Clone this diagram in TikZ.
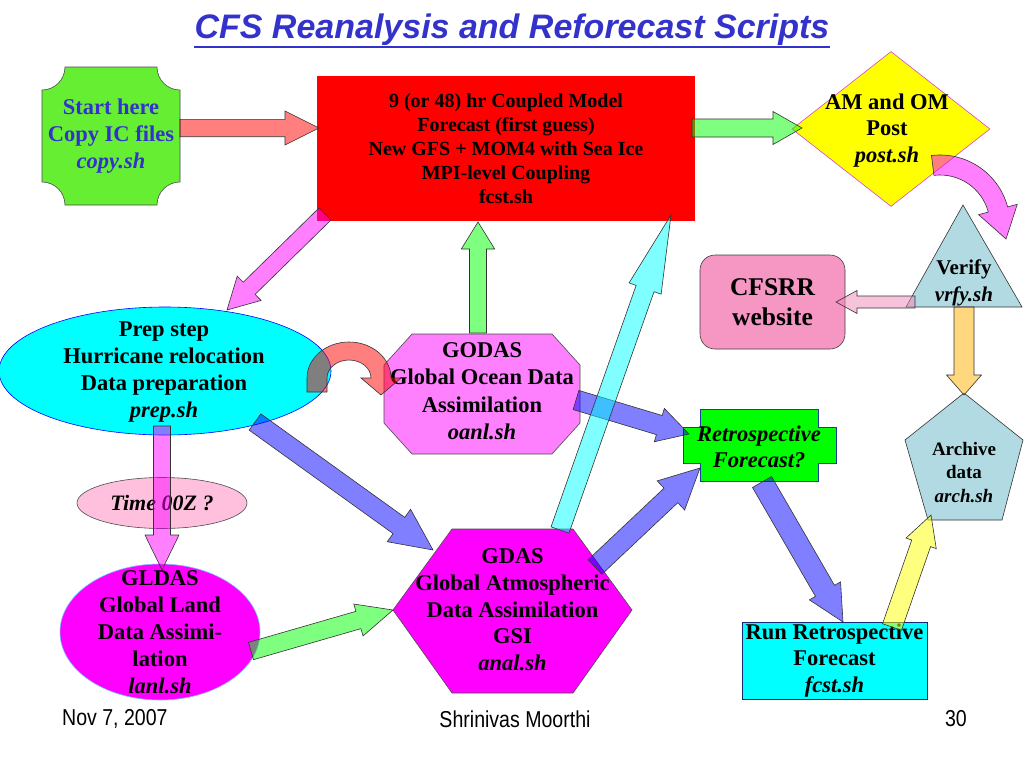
\documentclass[tikz,border=0pt]{standalone}
\usepackage{fontspec}
\setmainfont{Liberation Serif}
\newfontfamily\titlefont{Liberation Sans}
\newfontfamily\footfont[FakeStretch=0.85]{Liberation Sans}
\usetikzlibrary{calc,shapes.geometric}
\definecolor{tblue}{RGB}{51,51,204}
\definecolor{startgreen}{RGB}{102,238,51}
\definecolor{diamondline}{RGB}{220,70,200}
\definecolor{lblue}{RGB}{178,218,226}
\definecolor{cfpink}{RGB}{245,150,195}
\definecolor{godasfill}{RGB}{255,128,255}
\definecolor{gldasline}{RGB}{110,190,255}
\definecolor{timepink}{RGB}{255,192,222}
\definecolor{retroline}{RGB}{30,60,160}
\definecolor{runline}{RGB}{20,40,110}
\definecolor{pinkarrow}{RGB}{240,136,184}
\definecolor{orangearrow}{RGB}{255,176,0}
\definecolor{pcyan}{RGB}{0,255,255}
\definecolor{pmagenta}{RGB}{255,0,255}
\definecolor{pyellow}{RGB}{255,255,0}
\definecolor{pgreen}{RGB}{0,255,0}
\definecolor{pred}{RGB}{255,0,0}
\definecolor{pblue}{RGB}{0,0,255}
\newcommand{\fatarrow}[6]{%
  \coordinate (fa0) at (#1);
  \coordinate (fa1) at (#2);
  \coordinate (fab) at ($(fa1)!#6!(fa0)$);
  \draw[barrow,#3] ($(fa0)!#4!90:(fa1)$) -- ($(fab)!#4!-90:(fa0)$) -- ($(fab)!#5!-90:(fa0)$) -- (fa1) -- ($(fab)!#5!90:(fa0)$) -- ($(fab)!#4!90:(fa0)$) -- ($(fa0)!#4!-90:(fa1)$) -- cycle;
}
\begin{document}
\begin{tikzpicture}[x=1pt,y=-1pt,
  lbl/.style={align=center,inner sep=0pt,font=\bfseries\fontsize{22.5}{26.7}\selectfont},
  barrow/.style={draw=black!80,line width=0.6pt,fill opacity=0.5,line join=miter},
  shapeline/.style={line width=0.6pt}]
\useasboundingbox (0,0) rectangle (1024,768);
\fill[white] (0,0) rectangle (1024,768);

% title
\node[font=\titlefont\bfseries\itshape\fontsize{34}{40}\selectfont, text=tblue, inner sep=0pt] (title) at (512,30) {CFS Reanalysis and Reforecast Scripts};
\draw[tblue,line width=2.2pt] ([yshift=-1pt]title.south west) -- ([yshift=-1pt]title.south east);

% start plaque
\filldraw[fill=startgreen, draw=black!70, shapeline] (65,67) -- (157,67) arc[start angle=180,end angle=90,radius=23] -- (180,182) arc[start angle=270,end angle=180,radius=23] -- (65,205) arc[start angle=0,end angle=-90,radius=23] -- (42,90) arc[start angle=90,end angle=0,radius=23] -- cycle;
\node[lbl, text=tblue] (start) at (111,136) {Start here\\Copy IC files\\\textit{copy.sh}};

% forecast box
\node[fill=pred, minimum width=378pt, minimum height=145pt, inner sep=0pt, align=center, font=\bfseries\fontsize{20}{24}\selectfont] (fcst) at (506,148.5) {9 (or 48) hr Coupled Model\\Forecast (first guess)\\New GFS + MOM4 with Sea Ice\\MPI-level Coupling\\fcst.sh};

% post diamond
\node[diamond, fill=pyellow, draw=diamondline, shapeline, minimum width=198pt, minimum height=155pt, inner sep=0pt] (post) at (891,129) {};
\node[lbl] (posttext) at (887,130.5) {AM and OM\\Post\\\textit{post.sh}};

% verify triangle
\filldraw[fill=lblue, draw=black!80, shapeline] (963,205) -- (1022,307) -- (906,307) -- cycle;
\node[lbl, font=\bfseries\fontsize{21}{27}\selectfont] (vrfy) at (964,282.5) {Verify\\\textit{vrfy.sh}};

% CFSRR website
\node[draw=black!75, fill=cfpink, rounded corners=15pt, minimum width=145pt, minimum height=94pt, shapeline, align=center, inner sep=0pt, font=\bfseries\fontsize{25.5}{30}\selectfont] (cfsrr) at (772.5,302) {CFSRR\\website};

% archive pentagon
\filldraw[fill=lblue, draw=black!80, shapeline] (964,393) -- (1023,440) -- (1002,520) -- (928,520) -- (905,440) -- cycle;
\node[lbl, font=\bfseries\fontsize{19}{23.5}\selectfont] (arch) at (964,472.5) {Archive\\data\\\textit{arch.sh}};

% retrospective forecast?
\filldraw[fill=pgreen, draw=retroline, shapeline] (700,409) -- (818,409) -- (818,427) -- (836,427) -- (836,463) -- (818,463) -- (818,481) -- (700,481) -- (700,463) -- (683,463) -- (683,427) -- (700,427) -- cycle;
\node[lbl, font=\bfseries\fontsize{22.5}{26}\selectfont] (retro) at (759,447) {\textit{Retrospective}\\\textit{Forecast?}};

% run retrospective forecast
\node[draw=runline, fill=pcyan, shapeline, minimum width=185pt, minimum height=77pt, lbl, font=\bfseries\fontsize{22.5}{26.5}\selectfont] (run) at (834.5,660.5) {Run Retrospective\\Forecast\\\textit{fcst.sh}};

% prep ellipse
\node[ellipse, fill=pcyan, draw=pblue, shapeline, minimum width=332pt, minimum height=128pt, inner sep=0pt] (prep) at (165,371) {};
\node[lbl] (preptext) at (164,372) {Prep step\\Hurricane relocation\\Data preparation\\\textit{prep.sh}};

% GODAS octagon
\filldraw[fill=godasfill, draw=black!70, shapeline] (412,334) -- (552,334) -- (580,365) -- (580,423) -- (552,454) -- (412,454) -- (384,423) -- (384,365) -- cycle;
\node[lbl, font=\bfseries\fontsize{22.5}{27.5}\selectfont] (godas) at (482,391) {GODAS\\Global Ocean Data\\Assimilation\\\textit{oanl.sh}};

% GDAS hexagon
\filldraw[fill=pmagenta, draw=black!70, shapeline] (452,529) -- (573,529) -- (632,610) -- (573,693) -- (452,693) -- (393,610) -- cycle;
\node[lbl] (gdas) at (512.5,610) {GDAS\\Global Atmospheric\\Data Assimilation\\GSI\\\textit{anal.sh}};

% Time 00Z
\node[ellipse, fill=timepink, draw=black!70, shapeline, minimum width=170pt, minimum height=51pt, inner sep=0pt, font=\bfseries\itshape\fontsize{22}{26}\selectfont] (time) at (162,503) {Time 00Z ?};

% GLDAS ellipse
\node[ellipse, fill=pmagenta, draw=gldasline, shapeline, minimum width=200pt, minimum height=136pt, inner sep=0pt] (gldas) at (160,632) {};
\node[lbl, font=\bfseries\fontsize{22.5}{27}\selectfont] (gldastext) at (160,632) {GLDAS\\Global Land\\Data Assimi-\\lation\\\textit{lanl.sh}};

% footer
\node[font=\footfont\fontsize{23}{25}\selectfont, anchor=west, inner sep=0pt] (date) at (62,719) {Nov 7, 2007};
\node[font=\footfont\fontsize{23}{25}\selectfont, inner sep=0pt] (author) at (515,719) {Shrinivas Moorthi};
\node[font=\footfont\fontsize{23}{25}\selectfont, anchor=east, inner sep=0pt] (page) at (967,719) {30};

% arrow end points
\coordinate (a1s) at (180,128); \coordinate (a1e) at (319,128);
\coordinate (a2s) at (692,128); \coordinate (a2e) at (802,128);
\coordinate (a3s) at (325,214); \coordinate (a3e) at (227,310);
\coordinate (a4s) at (478,333); \coordinate (a4e) at (478,222);
\coordinate (a5s) at (560,530); \coordinate (a5e) at (671,215);
\coordinate (a6s) at (255,422); \coordinate (a6e) at (433,550);
\coordinate (a7s) at (576,400); \coordinate (a7e) at (689,434);
\coordinate (a8s) at (595,567); \coordinate (a8e) at (700,468);
\coordinate (a9s) at (762,482); \coordinate (a9e) at (843,622);
\coordinate (a10s) at (892,627); \coordinate (a10e) at (931,515);
\coordinate (a11s) at (251,651); \coordinate (a11e) at (393,610);
\coordinate (a12s) at (162,426); \coordinate (a12e) at (162,570);
\coordinate (a13s) at (915,302); \coordinate (a13e) at (836,302);
\coordinate (a14s) at (964,307); \coordinate (a14e) at (964,395);

\fatarrow{a1s}{a1e}{fill=pred}{8.7pt}{17pt}{34pt}
\fatarrow{a2s}{a2e}{fill=pgreen}{9pt}{16.5pt}{29pt}
\fatarrow{a3s}{a3e}{fill=pmagenta}{8.5pt}{17pt}{31pt}
\fatarrow{a4s}{a4e}{fill=pgreen}{8.5pt}{16.7pt}{27pt}
\fatarrow{a6s}{a6e}{fill=pblue}{10pt}{20pt}{42pt}
\fatarrow{a7s}{a7e}{fill=pblue}{10pt}{17.4pt}{31pt}
\fatarrow{a5s}{a5e}{fill=pcyan}{9.5pt}{17pt}{78pt}
\fatarrow{a8s}{a8e}{fill=pblue}{10pt}{20pt}{40pt}
\fatarrow{a9s}{a9e}{fill=pblue}{11pt}{18pt}{36pt}
\fatarrow{a10s}{a10e}{fill=pyellow}{10pt}{16pt}{30pt}
\fatarrow{a11s}{a11e}{fill=pgreen}{9pt}{16.6pt}{36pt}
\fatarrow{a12s}{a12e}{fill=pmagenta}{8.5pt}{17pt}{35pt}
\fatarrow{a13s}{a13e}{fill=pinkarrow}{6pt}{11.5pt}{21pt}
\fatarrow{a14s}{a14e}{fill=orangearrow}{10pt}{17.5pt}{20pt}

% curved arrow prep -> GODAS
\draw[barrow, fill=pred] (307,392) -- (307,378) arc[start angle=180, end angle=360, x radius=42, y radius=36] -- (401,378) -- (381,395) -- (361,378) -- (371,378) arc[start angle=360, end angle=180, x radius=22, y radius=18] -- (327,392) -- cycle;

% curved arrow post -> verify
\draw[barrow, fill=pmagenta] ([shift={(-97:70)}]940,225) arc[start angle=-97, end angle=-15, radius=70] -- ([shift={(-15:80)}]940,225) -- (1006,239) -- ([shift={(-15:40)}]940,225) -- ([shift={(-15:50)}]940,225) arc[start angle=-15, end angle=-97, radius=50] -- cycle;
\end{tikzpicture}
\end{document}
